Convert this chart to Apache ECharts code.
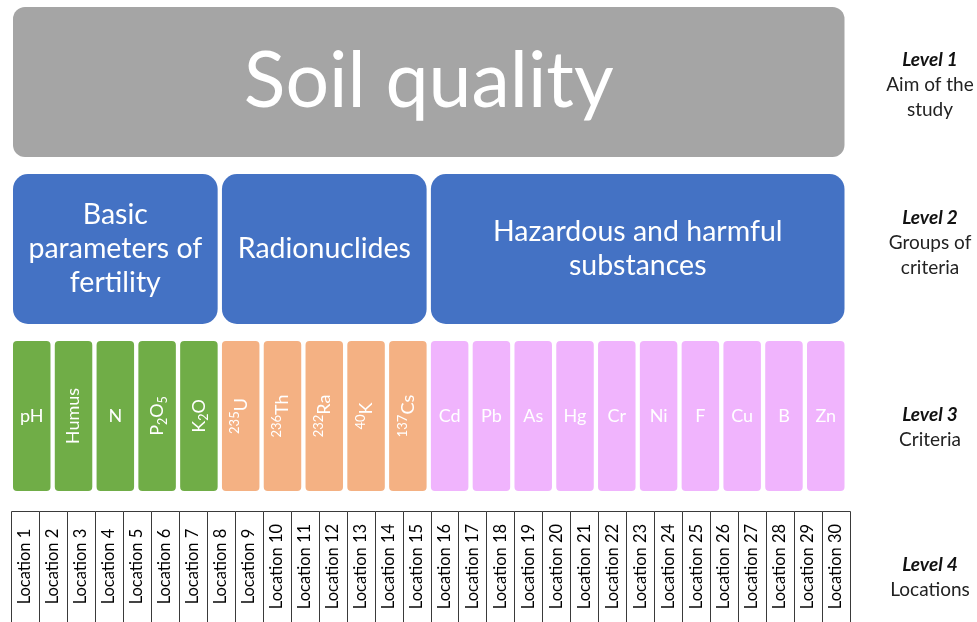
<!DOCTYPE html>
<html><head><meta charset="utf-8">
<script src="https://cdn.jsdelivr.net/npm/echarts@6/dist/echarts.min.js"></script>
<style>html,body{margin:0;padding:0;background:#fff}#c{width:977px;height:622px}</style>
</head><body><div id="c"></div>
<script>
// ---------- data ----------
const levelTitles = ['Level 1', 'Level 2', 'Level 3', 'Level 4'];
const levelDescriptions = ['Aim of the\nstudy', 'Groups of\ncriteria', 'Criteria', 'Locations'];
const aim = ['Soil quality'];
const groupNames = ['Basic\nparameters of\nfertility', 'Radionuclides', 'Hazardous and harmful\nsubstances'];
const groupCriteriaCount = [5, 5, 10];
const criteria = ['pH', 'Humus', 'N', 'P{sub|2}O{sub|5}', 'K{sub|2}O',
  '{sup|235}U', '{sup|236}Th', '{sup|232}Ra', '{sup|40}K', '{sup|137}Cs',
  'Cd', 'Pb', 'As', 'Hg', 'Cr', 'Ni', 'F', 'Cu', 'B', 'Zn'];
const locations = ['Location 1', 'Location 2', 'Location 3', 'Location 4', 'Location 5',
  'Location 6', 'Location 7', 'Location 8', 'Location 9', 'Location 10',
  'Location 11', 'Location 12', 'Location 13', 'Location 14', 'Location 15',
  'Location 16', 'Location 17', 'Location 18', 'Location 19', 'Location 20',
  'Location 21', 'Location 22', 'Location 23', 'Location 24', 'Location 25',
  'Location 26', 'Location 27', 'Location 28', 'Location 29', 'Location 30'];

// ---------- styles ----------
const FONT = 'Lato';
const AIM_COLOR = '#A5A5A5';
const GROUP_BOX_COLOR = '#4472C4';
const GROUP_COLORS = ['#70AD47', '#F4B183', '#F0B4FD'];
const ROTATED = new Set(['Humus', 'P{sub|2}O{sub|5}', 'K{sub|2}O',
  '{sup|235}U', '{sup|236}Th', '{sup|232}Ra', '{sup|40}K', '{sup|137}Cs']);
const GAP = 4.3, BOX_H = 150;

// ---------- build box items from data ----------
const boxes = [];
boxes.push({ v: [0, criteria.length, 0], text: aim[0], kind: 0 });
let acc = 0;
const groupOf = [];
groupNames.forEach((g, i) => {
  boxes.push({ v: [acc, acc + groupCriteriaCount[i], 1], text: g, kind: 1 });
  for (let k = 0; k < groupCriteriaCount[i]; k++) groupOf.push(i);
  acc += groupCriteriaCount[i];
});
criteria.forEach((c, i) => {
  boxes.push({ v: [i, i + 1, 2], text: c, kind: 2, group: groupOf[i] });
});

const subRich = {
  sup: { fontSize: 13, lineHeight: 15, verticalAlign: 'top', fill: '#fff', fontFamily: FONT },
  sub: { fontSize: 12.5, lineHeight: 12, verticalAlign: 'bottom', fill: '#fff', fontFamily: FONT }
};

function renderBox(params, api) {
  const b = boxes[params.dataIndex];
  const p0 = api.coord([api.value(0), api.value(2)]);
  const p1 = api.coord([api.value(1), api.value(2)]);
  const x = p0[0], w = p1[0] - p0[0] - GAP;
  const y = p0[1] - BOX_H / 2;
  let fill, r, fs, lh;
  if (b.kind === 0) { fill = AIM_COLOR; r = 12; fs = 77; lh = 90; }
  else if (b.kind === 1) { fill = GROUP_BOX_COLOR; r = 15; fs = 28.5; lh = 34; }
  else { fill = GROUP_COLORS[b.group]; r = 4; fs = 18; lh = 24; }
  const rot = b.kind === 2 && ROTATED.has(b.text);
  return {
    type: 'group',
    children: [
      { type: 'rect', shape: { x: x, y: y, width: w, height: BOX_H, r: r }, style: { fill: fill } },
      { type: 'text', x: x + w / 2, y: p0[1], rotation: rot ? Math.PI / 2 : 0,
        style: { text: b.text, x: 0, y: 0, align: 'center', verticalAlign: 'middle',
          fill: '#fff', fontSize: fs, fontFamily: FONT, lineHeight: lh, rich: subRich } }
    ]
  };
}

function renderLocation(params, api) {
  const p0 = api.coord([api.value(0), api.value(2)]);
  const p1 = api.coord([api.value(1), api.value(2)]);
  const band = api.size([0, 1])[1];
  const top = Math.round(p0[1] - band / 2 + 11.5) + 0.5;
  const x0 = Math.round(p0[0]) + 0.5, x1 = Math.round(p1[0]) + 0.5;
  return {
    type: 'group',
    children: [
      { type: 'rect', shape: { x: x0, y: top, width: x1 - x0, height: 160 },
        style: { fill: '#fff', stroke: '#3a3a3a', lineWidth: 1 } },
      { type: 'text', x: (p0[0] + p1[0]) / 2, y: top + 55, rotation: Math.PI / 2,
        style: { text: locations[params.dataIndex], x: 0, y: 0, align: 'center', verticalAlign: 'middle',
          fill: '#000', fontSize: 16.5, fontFamily: FONT } }
    ]
  };
}

const labelPadding = [[5, 0, 0, 0], [0, 0, 13, 0], [23, 0, 0, 0], [0, 0, 11, 0]];
const LABEL_W = 110;

const chart = echarts.init(document.getElementById('c'), null, { renderer: 'canvas' });
chart.setOption({
  animation: false,
  grid: [
    { left: 13, width: 835.8, top: -1.5, height: 668, containLabel: false, outerBoundsMode: 'none' },
    { left: 11, width: 839, top: -1.5, height: 668, containLabel: false, outerBoundsMode: 'none' }
  ],
  xAxis: [
    { gridIndex: 0, type: 'value', min: 0, max: criteria.length, show: false },
    { gridIndex: 1, type: 'value', min: 0, max: locations.length, show: false }
  ],
  yAxis: [
    { gridIndex: 0, type: 'category', inverse: true, position: 'right',
      data: levelTitles.map((t, i) => ({ value: t, textStyle: { padding: labelPadding[i] } })),
      axisLine: { show: false }, axisTick: { show: false }, splitLine: { show: false },
      axisLabel: {
        margin: 930 - LABEL_W / 2 - 848.8, verticalAlign: 'middle',
        formatter: (v, i) => '{t|' + v + '}\n{d|' + levelDescriptions[i] + '}',
        rich: {
          t: { fontFamily: FONT, fontSize: 19, fontWeight: 'bold', fontStyle: 'italic', color: '#111', lineHeight: 25, align: 'center', width: LABEL_W },
          d: { fontFamily: FONT, fontSize: 19, color: '#222', lineHeight: 25, align: 'center', width: LABEL_W }
        }
      } },
    { gridIndex: 1, type: 'category', inverse: true, data: levelTitles, show: false }
  ],
  series: [
    { type: 'custom', xAxisIndex: 0, yAxisIndex: 0, renderItem: renderBox, clip: false,
      data: boxes.map(b => b.v) },
    { type: 'custom', xAxisIndex: 1, yAxisIndex: 1, renderItem: renderLocation, clip: false,
      data: locations.map((l, i) => [i, i + 1, 3]) }
  ]
});
</script></body></html>
